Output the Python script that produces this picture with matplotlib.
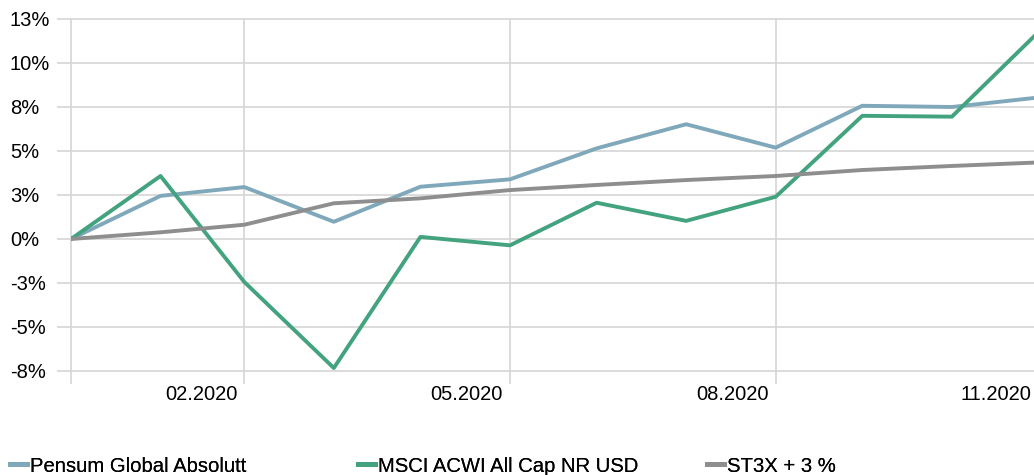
import matplotlib.pyplot as plt
import pandas as pd
from matplotlib.lines import Line2D
from matplotlib.transforms import ScaledTranslation

plt.rcParams['font.family'] = ['Liberation Sans', 'DejaVu Sans']

# monthly cumulative return at month end, 12.2019 .. 11.2020
dates = pd.to_datetime(['2019-12-31', '2020-01-31', '2020-02-29', '2020-03-31',
                        '2020-04-30', '2020-05-31', '2020-06-30', '2020-07-31',
                        '2020-08-31', '2020-09-30', '2020-10-31', '2020-11-30'])
pensum = [0, 2.45, 2.95, 0.98, 2.97, 3.39, 5.15, 6.52, 5.19, 7.57, 7.5, 8.04]
msci = [0, 3.58, -2.44, -7.33, 0.12, -0.36, 2.06, 1.03, 2.4, 7.0, 6.95, 11.76]
st3x = [0, 0.38, 0.81, 2.03, 2.31, 2.78, 3.07, 3.35, 3.58, 3.92, 4.15, 4.35]

series_names = ['Pensum Global Absolutt', 'MSCI ACWI All Cap NR USD', 'ST3X + 3 %']
colors = ['#7fa8ba', '#43a37f', '#8e8e8e']

yticks = [-7.5, -5, -2.5, 0, 2.5, 5, 7.5, 10, 12.5]
ytick_labels = ['-8%', '-5%', '-3%', '0%', '3%', '5%', '8%', '10%', '13%']
xtick_idx = [0, 2, 5, 8, 11]

grid_col = '#d6d6d6'

fig = plt.figure(figsize=(10.34, 4.75), dpi=100)
ax = fig.add_axes([71 / 1034, 104 / 475, 967.5 / 1034, 352 / 475])

# x as days since first month end
days = [(d - dates[0]).days for d in dates]
for vals, c in zip([pensum, msci, st3x], colors):
    ax.plot(days, vals, color=c, lw=2.8)

ax.set_xlim(0, days[-1])
ax.set_ylim(-7.5, 12.5)
for s in ax.spines.values():
    s.set_visible(False)

ax.set_yticks(yticks)
ax.set_yticklabels(ytick_labels)
ax.set_xticks([days[i] for i in xtick_idx])
ax.set_xticklabels(['' if i == 0 else dates[i].strftime('%m.%Y') for i in xtick_idx])
ax.grid(True, color=grid_col, lw=1.2)
ax.set_axisbelow(True)
for gl in ax.get_ygridlines() + ax.get_xgridlines():
    gl.set_clip_on(False)

ax.tick_params(axis='y', length=10, width=1.2, color=grid_col, pad=34, labelsize=14.5)
ax.tick_params(axis='x', length=9, width=1.2, color=grid_col, pad=1, labelsize=14.5)
for lab in ax.get_yticklabels():
    lab.set_horizontalalignment('left')
shift = ScaledTranslation(-7 / 100, 0, fig.dpi_scale_trans)
for lab in ax.get_xticklabels():
    lab.set_horizontalalignment('right')
    lab.set_transform(lab.get_transform() + shift)

# three legend entries on a fixed column grid
for name, c, xp in zip(series_names, colors, [10, 358, 707]):
    h = Line2D([], [], color=c, lw=3.6)
    leg = fig.legend([h], [name], loc='center left', bbox_to_anchor=(xp / 1034, 9 / 475),
                     frameon=False, fontsize=14.6, handlelength=0.85, handletextpad=0.15,
                     borderpad=0, borderaxespad=0)
    fig.add_artist(leg)

fig.savefig('out.png', dpi=100)
